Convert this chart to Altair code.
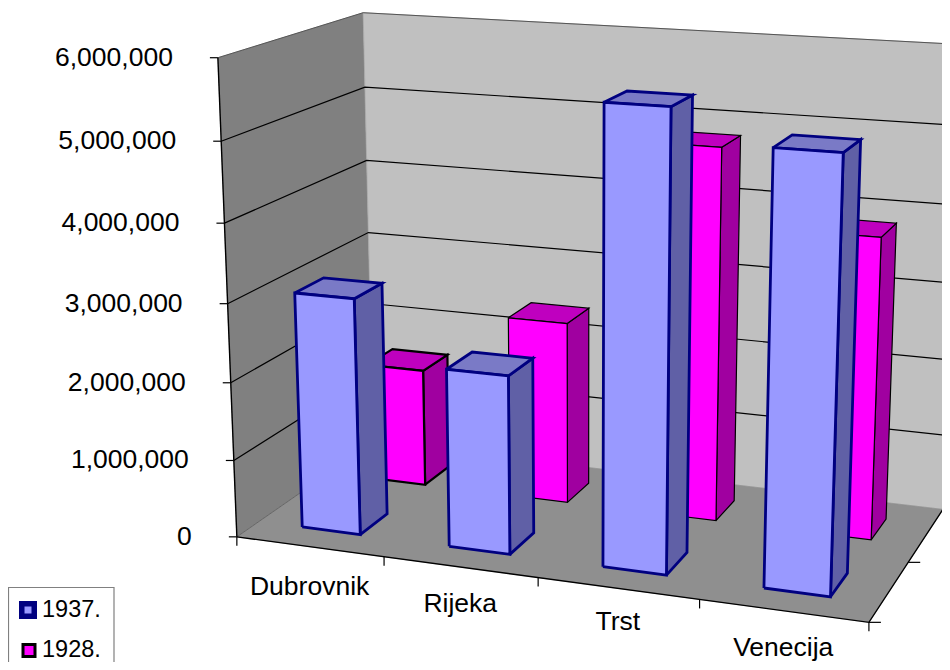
import numpy as np
import pandas as pd
import altair as alt

categories = ["Dubrovnik", "Rijeka", "Trst", "Venecija"]
series_1937 = [3040000, 2270000, 5650000, 5260000]
series_1928 = [1570000, 2400000, 4810000, 3850000]
value_ticks = [0, 1000000, 2000000, 3000000, 4000000, 5000000, 6000000]
label_drop = [40, 37, 34, 37]

# camera calibration: (across, depth, millions) -> page pixel
calib = [
    (0, 0, 0, 238, 537), (1, 0, 0, 868, 622), (0, 1, 0, 372, 442), (1, 1, 0, 943, 508),
    (0, 0, 6, 217, 57), (0, 1, 6, 364, 13), (1, 1, 6, 962, 45),
    (0, 0, 3, 228, 303), (0, 1, 3, 368, 233), (.25, 0, 0, 385, 557), (.5, 0, 0, 538, 578),
    (.75, 0, 0, 698, 600), (1, .5, 0, 910, 563),
]
A = []
for X, D, V, u, v in calib:
    p = [X, D, V, 1]
    A.append(p + [0, 0, 0, 0] + [-u * c for c in p])
    A.append([0, 0, 0, 0] + p + [-v * c for c in p])
P = np.linalg.svd(np.array(A, float))[2][-1].reshape(3, 4)


def proj(X, D, val):
    h = P @ np.array([X, D, val / 1e6, 1.0])
    return float(h[0] / h[2]), float(h[1] / h[2])


rows = []


def poly(pts, fill, stroke, sw, closed=True):
    pid = len(set(r["id"] for r in rows)) if rows else 0
    pts = list(pts) + ([pts[0]] if closed else [])
    for i, (X, D, V) in enumerate(pts):
        u, v = proj(X, D, V)
        rows.append(dict(id=pid, o=i, px=u, py=v, f=fill, s=stroke, w=sw))


TOP = 6e6
poly([(0, 0, 0), (0, 1, 0), (0, 1, TOP), (0, 0, TOP)], "#808080", "#808080", 0.5)
poly([(0, 1, 0), (1, 1, 0), (1, 1, TOP), (0, 1, TOP)], "#C0C0C0", "#A8A8A8", 0.8)
poly([(0, 0, 0), (1, 0, 0), (1, 1, 0), (0, 1, 0)], "#8F8F8F", "#8F8F8F", 0.5)
for t in value_ticks[1:-1]:
    poly([(0, 0, t), (0, 1, t), (1, 1, t)], "transparent", "#000000", 1.2, closed=False)
poly([(0, 0, 0), (0, 1, 0)], "transparent", "#555555", 0.7, closed=False)
poly([(0, 1, TOP), (1, 1, TOP)], "transparent", "#555555", 1, closed=False)
poly([(0, 0, TOP), (0, 1, TOP)], "transparent", "#555555", 1, closed=False)
poly([(0, 0, 0), (0, 0, TOP)], "transparent", "#000000", 1.4, closed=False)
poly([(0, 0, 0), (1, 0, 0), (1, 1, 0)], "transparent", "#000000", 1.4, closed=False)


def bar(i, d0, val, front, top, side, stroke, sw):
    x0 = (i + 0.3) / 4
    x1 = (i + 0.7) / 4
    d1 = d0 + 0.2
    poly([(x1, d0, 0), (x1, d1, 0), (x1, d1, val), (x1, d0, val)], side, stroke, sw)
    poly([(x0, d0, val), (x1, d0, val), (x1, d1, val), (x0, d1, val)], top, stroke, sw)
    poly([(x0, d0, 0), (x1, d0, 0), (x1, d0, val), (x0, d0, val)], front, stroke, sw)


for i, v in enumerate(series_1928):
    bar(i, 0.65, v, "#FF00FF", "#BF00BF", "#A000A0", "#000000", 2.2 if i == 0 else 1.2)
for i, v in enumerate(series_1937):
    bar(i, 0.15, v, "#9999FF", "#7A7AC6", "#6060A6", "#000080", 2.8)

# tick marks as short strokes in page pixels away from the projected axis points
tick_rows = []
for t in value_ticks:
    u, v = proj(0, 0, t)
    tick_rows.append(dict(a=u - 8, b=v, a2=u, b2=v))
for k in range(5):
    u, v = proj(k / 4, 0, 0)
    tick_rows.append(dict(a=u, b=v, a2=u, b2=v + 9))
for d in (0, .5, 1):
    u, v = proj(1, d, 0)
    tick_rows.append(dict(a=u, b=v, a2=u + 12, b2=v))

xs = alt.Scale(domain=[8, 942], range=[0, 934], zero=False, nice=False)
ys = alt.Scale(domain=[8, 662], range=[0, 654], zero=False, nice=False)

shapes = alt.Chart(pd.DataFrame(rows)).mark_line(interpolate="linear", strokeJoin="miter", strokeCap="butt", clip=True).encode(
    x=alt.X("px:Q", scale=xs, axis=None),
    y=alt.Y("py:Q", scale=ys, axis=None),
    order="o:Q",
    detail="id:N",
    fill=alt.Fill("f:N", scale=None, legend=None),
    stroke=alt.Stroke("s:N", scale=None, legend=None),
    strokeWidth=alt.StrokeWidth("w:Q", scale=None, legend=None),
)

ticks = alt.Chart(pd.DataFrame(tick_rows)).mark_rule(color="#000000", strokeWidth=1.2, clip=True).encode(
    x=alt.X("a:Q", scale=xs, axis=None), x2="a2:Q",
    y=alt.Y("b:Q", scale=ys, axis=None), y2="b2:Q",
)

val_rows = []
for t in value_ticks:
    u, v = proj(0, 0, t)
    val_rows.append(dict(u=u - 45, v=v, t=f"{t:,}"))
val_text = alt.Chart(pd.DataFrame(val_rows)).mark_text(
    align="right", baseline="middle", font="Liberation Sans", fontSize=26.5, color="#000000"
).encode(x=alt.X("u:Q", scale=xs, axis=None), y=alt.Y("v:Q", scale=ys, axis=None), text="t:N")

cat_rows = []
for i, c in enumerate(categories):
    u, v = proj((i + .5) / 4, 0, 0)
    cat_rows.append(dict(u=u, v=v + label_drop[i], t=c))
cat_text = alt.Chart(pd.DataFrame(cat_rows)).mark_text(
    align="center", baseline="middle", font="Liberation Sans", fontSize=26.5, color="#000000"
).encode(x=alt.X("u:Q", scale=xs, axis=None), y=alt.Y("v:Q", scale=ys, axis=None), text="t:N")

legend_box = alt.Chart(pd.DataFrame({"k": [0]})).mark_rect(fill="#FFFFFF", stroke="#808080", strokeWidth=1.2).encode(
    x=alt.value(0.5), x2=alt.value(106), y=alt.value(579.5), y2=alt.value(700)
)
leg = pd.DataFrame({"t": ["1937.", "1928."], "yy": [602, 642]})
leg_a = alt.Chart(leg[leg.t == "1937."]).mark_square(size=156, stroke="#000080", strokeWidth=5.5, fill="#9999FF", opacity=1, strokeOpacity=1, fillOpacity=1).encode(
    x=alt.value(20), y=alt.value(602))
leg_b = alt.Chart(leg[leg.t == "1928."]).mark_square(size=144, stroke="#000000", strokeWidth=3, fill="#FF00FF", opacity=1, strokeOpacity=1, fillOpacity=1).encode(
    x=alt.value(21), y=alt.value(642.5))
leg_text = alt.Chart(leg).mark_text(align="left", baseline="middle", font="Liberation Sans", fontSize=23.5, color="#000000").encode(
    x=alt.value(34), y=alt.Y("yy:Q", scale=None), text="t:N")

chart = alt.layer(shapes, ticks, val_text, cat_text, legend_box, leg_a, leg_b, leg_text).properties(
    width=934, height=654, padding=0, autosize=alt.AutoSizeParams(type="none"),
    background="#FFFFFF",
).configure_view(stroke=None)

chart.save("out.html", embed_options={"renderer": "svg", "actions": False})
